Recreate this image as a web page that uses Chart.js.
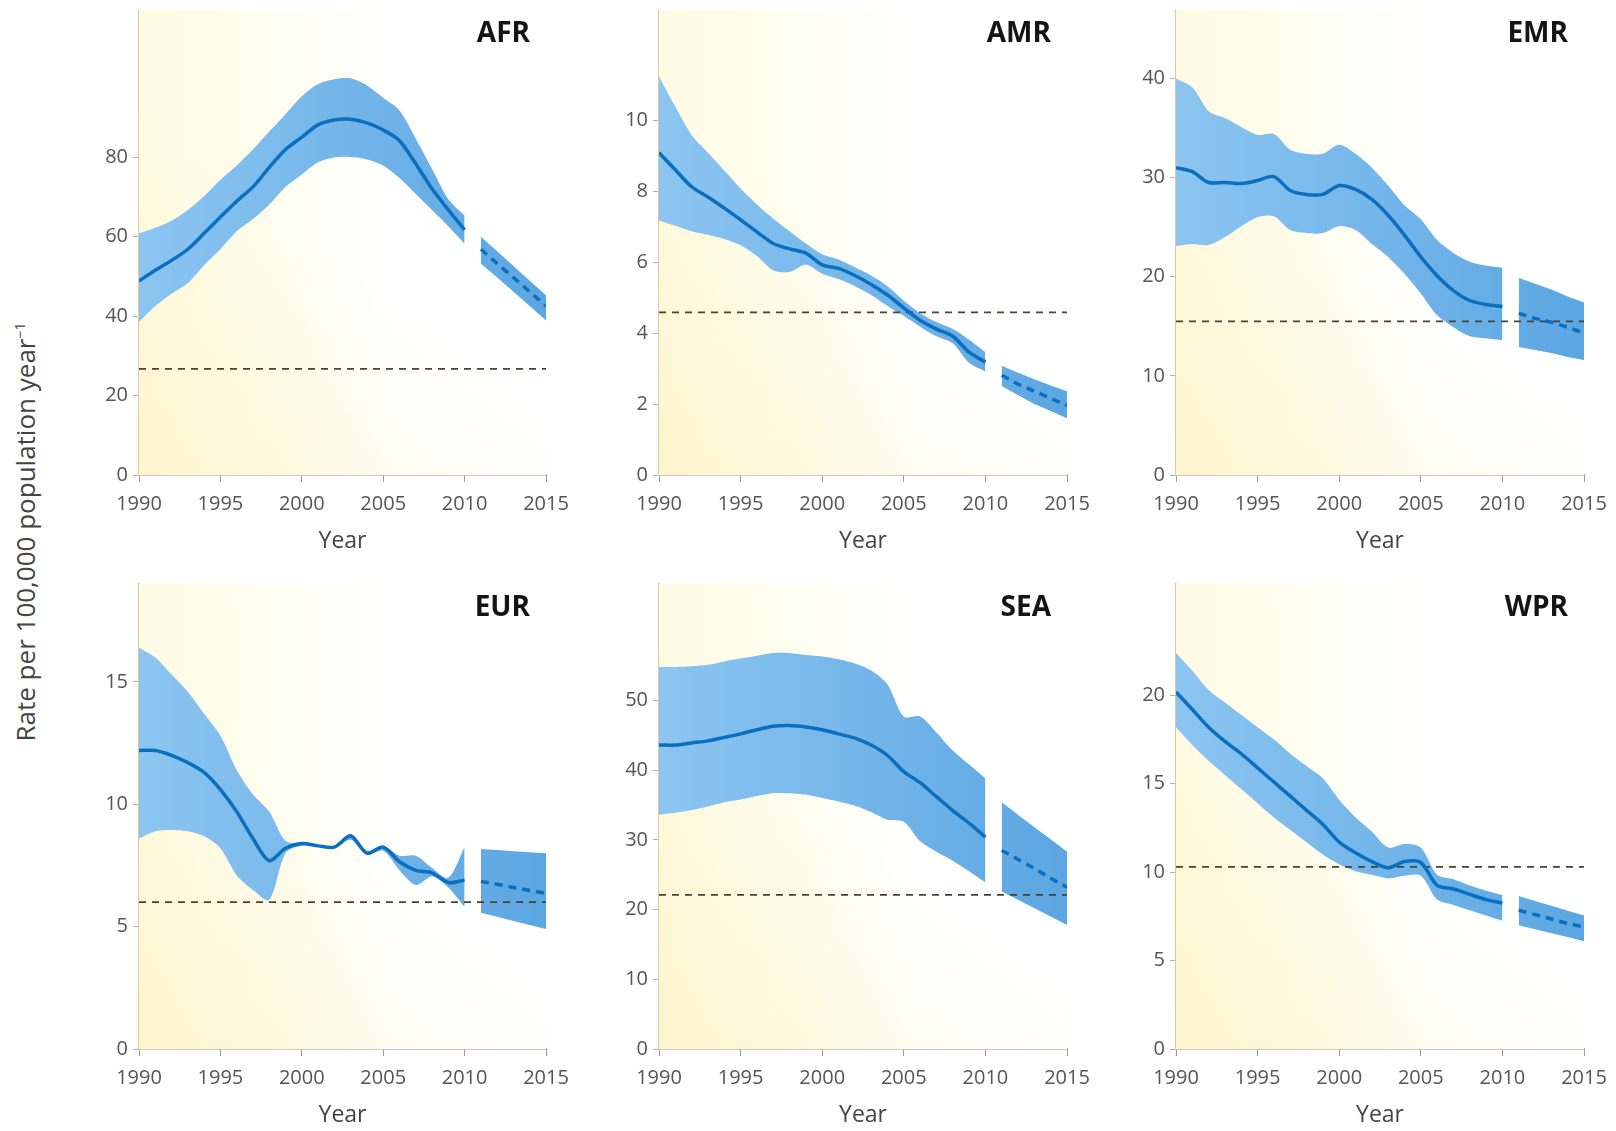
<!DOCTYPE html>
<html>
<head>
    <title>TB incidence by WHO region</title>
    <script src="https://cdn.jsdelivr.net/npm/chart.js"></script>
    <style>
        body { margin: 0; background: #fff; overflow: hidden; font-family: 'Open Sans', sans-serif; }
        .panel { position: absolute; }
        #ytitle {
            position: absolute; left: 25px; top: 532px; white-space: nowrap;
            transform: translate(-50%, -50%) rotate(-90deg);
            font-size: 26px; color: #444;
        }
        #ytitle sup { font-size: 14px; }
    </style>
</head>
<body>
    <div id="ytitle">Rate per 100,000 population year<sup>−1</sup></div>
    <canvas class="panel" id="afr" width="510" height="560" style="left:60px;top:0px"></canvas>
    <canvas class="panel" id="amr" width="510" height="560" style="left:580px;top:0px"></canvas>
    <canvas class="panel" id="emr" width="519" height="560" style="left:1097px;top:0px"></canvas>
    <canvas class="panel" id="eur" width="510" height="560" style="left:60px;top:574px"></canvas>
    <canvas class="panel" id="sea" width="510" height="560" style="left:580px;top:574px"></canvas>
    <canvas class="panel" id="wpr" width="519" height="560" style="left:1097px;top:574px"></canvas>

    <script>
        const years = [1990, 1991, 1992, 1993, 1994, 1995, 1996, 1997, 1998, 1999, 2000,
                       2001, 2002, 2003, 2004, 2005, 2006, 2007, 2008, 2009, 2010];
        const projYears = [2011, 2012, 2013, 2014, 2015];

        // AFR
        const afrMid = [48.8, 51.5, 54, 56.8, 60.8, 64.9, 68.9, 72.5, 77.4, 81.9, 85, 88.1, 89.3, 89.5, 88.6, 86.8, 84.1, 78.3, 72, 66.7, 61.7];
        const afrHi  = [60.8, 62.2, 64, 66.7, 70.2, 74.3, 77.9, 81.9, 86.4, 90.8, 95.3, 98.4, 99.6, 99.8, 98, 94.9, 91.7, 84.6, 77, 69.4, 65.3];
        const afrLo  = [38.5, 42.5, 45.6, 48.3, 52.8, 56.8, 61.3, 64.4, 68, 72.5, 75.6, 78.7, 79.9, 80, 79.4, 77.9, 74.7, 70.7, 66.7, 62.6, 58.2];
        const afrProjMid = [56.8, 53.2, 49.7, 46.1, 42.5];
        const afrProjHi  = [60, 56.3, 52.6, 48.9, 45.2];
        const afrProjLo  = [53.2, 49.7, 46.1, 42.5, 38.9];
        const afrTarget = 26.7;
        const afrTicks = [0, 20, 40, 60, 80];

        // AMR
        const amrMid = [9.08, 8.6, 8.12, 7.83, 7.52, 7.19, 6.85, 6.52, 6.37, 6.25, 5.92, 5.82, 5.62, 5.37, 5.07, 4.71, 4.36, 4.11, 3.91, 3.46, 3.18];
        const amrHi  = [11.23, 10.38, 9.58, 9.08, 8.58, 8.07, 7.62, 7.22, 6.87, 6.52, 6.22, 6.07, 5.85, 5.62, 5.32, 4.91, 4.56, 4.31, 4.11, 3.81, 3.46];
        const amrLo  = [7.17, 7.02, 6.87, 6.77, 6.65, 6.47, 6.17, 5.77, 5.72, 5.92, 5.67, 5.52, 5.32, 5.07, 4.76, 4.48, 4.18, 3.91, 3.71, 3.16, 2.91];
        const amrProjMid = [2.81, 2.56, 2.36, 2.16, 1.96];
        const amrProjHi  = [3.08, 2.88, 2.7, 2.52, 2.36];
        const amrProjLo  = [2.51, 2.25, 2.0, 1.8, 1.6];
        const amrTarget = 4.58;
        const amrTicks = [0, 2, 4, 6, 8, 10];

        // EMR
        const emrMid = [31, 30.6, 29.5, 29.5, 29.4, 29.7, 30.1, 28.7, 28.3, 28.3, 29.2, 28.8, 27.8, 26.2, 24.2, 22, 20.1, 18.6, 17.6, 17.2, 17];
        const emrHi  = [40, 39.1, 36.7, 36, 35.1, 34.3, 34.4, 32.8, 32.4, 32.4, 33.3, 32.4, 31, 29.2, 27.2, 25.8, 23.7, 22.4, 21.5, 21.1, 20.9];
        const emrLo  = [23.1, 23.3, 23.2, 24, 25.1, 26, 26.1, 24.7, 24.4, 24.4, 25.1, 24.7, 23.3, 22, 20.3, 18.3, 16.1, 14.9, 14, 13.8, 13.6];
        const emrProjMid = [16.3, 15.8, 15.4, 14.9, 14.3];
        const emrProjHi  = [19.9, 19.3, 18.7, 18.0, 17.4];
        const emrProjLo  = [12.9, 12.6, 12.3, 11.9, 11.6];
        const emrTarget = 15.5;
        const emrTicks = [0, 10, 20, 30, 40];

        // EUR
        const eurMid = [12.2, 12.2, 12.0, 11.7, 11.3, 10.6, 9.7, 8.6, 7.7, 8.2, 8.4, 8.3, 8.25, 8.7, 8.0, 8.25, 7.65, 7.3, 7.2, 6.8, 6.9];
        const eurHi  = [16.4, 16.0, 15.3, 14.6, 13.7, 12.8, 11.4, 10.4, 9.7, 8.5, 8.4, 8.3, 8.3, 8.8, 8.1, 8.3, 7.9, 7.9, 7.4, 7.0, 8.25];
        const eurLo  = [8.6, 8.9, 8.95, 8.9, 8.7, 8.2, 7.1, 6.5, 6.1, 8.0, 8.3, 8.25, 8.2, 8.55, 7.95, 8.1, 7.3, 6.7, 7.05, 6.6, 5.8];
        const eurProjMid = [6.85, 6.73, 6.6, 6.48, 6.36];
        const eurProjHi  = [8.17, 8.13, 8.08, 8.04, 8.0];
        const eurProjLo  = [5.57, 5.4, 5.23, 5.07, 4.9];
        const eurTarget = 6.0;
        const eurTicks = [0, 5, 10, 15];

        // SEA
        const seaMid = [43.6, 43.6, 43.9, 44.2, 44.7, 45.2, 45.8, 46.3, 46.4, 46.2, 45.8, 45.2, 44.6, 43.6, 42.1, 39.8, 38.2, 36.2, 34.2, 32.4, 30.4];
        const seaHi  = [54.8, 54.8, 54.9, 55.1, 55.6, 56, 56.4, 56.8, 56.8, 56.5, 56.3, 55.9, 55.3, 54.3, 52.3, 47.7, 47.7, 45.4, 42.8, 40.8, 38.8];
        const seaLo  = [33.6, 33.9, 34.3, 34.8, 35.4, 35.8, 36.3, 36.7, 36.7, 36.5, 36, 35.5, 34.9, 34, 32.9, 32.6, 29.8, 28.3, 27, 25.5, 23.9];
        const seaProjMid = [28.5, 27.2, 25.9, 24.5, 23.2];
        const seaProjHi  = [35.4, 33.6, 31.8, 30.1, 28.3];
        const seaProjLo  = [22.6, 21.4, 20.2, 19.0, 17.8];
        const seaTarget = 22.1;
        const seaTicks = [0, 10, 20, 30, 40, 50];

        // WPR
        const wprMid = [20.2, 19.2, 18.2, 17.4, 16.7, 15.9, 15.1, 14.3, 13.5, 12.7, 11.7, 11.1, 10.6, 10.25, 10.6, 10.55, 9.25, 9.05, 8.75, 8.45, 8.25];
        const wprHi  = [22.4, 21.4, 20.3, 19.6, 18.9, 18.2, 17.5, 16.7, 16, 15.3, 14.1, 13.1, 12.3, 11.4, 11.6, 11.4, 9.85, 9.6, 9.25, 8.95, 8.7];
        const wprLo  = [18.2, 17.2, 16.3, 15.5, 14.7, 13.9, 13.1, 12.4, 11.7, 11, 10.45, 10.05, 9.85, 9.65, 9.8, 9.8, 8.45, 8.15, 7.85, 7.55, 7.25];
        const wprProjMid = [7.85, 7.6, 7.35, 7.1, 6.9];
        const wprProjHi  = [8.65, 8.37, 8.1, 7.82, 7.55];
        const wprProjLo  = [7.0, 6.78, 6.55, 6.33, 6.1];
        const wprTarget = 10.3;
        const wprTicks = [0, 5, 10, 15, 20];

        const FONT = "'Open Sans', sans-serif";
        const LINE = '#0b6fbf';

        function pts(xs, ys) {
            return xs.map((x, i) => ({ x: x, y: ys[i] }));
        }

        function bandFill(context) {
            const chart = context.chart;
            const a = chart.chartArea;
            if (!a) return '#78b8ec';
            const g = chart.ctx.createLinearGradient(a.left, 0, a.right, 0);
            g.addColorStop(0, '#8cc5f1');
            g.addColorStop(1, '#5ba6e2');
            return g;
        }

        // pale yellow wash behind the plot, strongest bottom-left
        const backdrop = {
            id: 'backdrop',
            beforeDatasetsDraw(chart) {
                const a = chart.chartArea, ctx = chart.ctx;
                const w = a.right - a.left, h = a.bottom - a.top;
                const g = ctx.createLinearGradient(a.left, 0, a.right, 0);
                g.addColorStop(0, '#fffbe3');
                g.addColorStop(0.35, '#fffdf0');
                g.addColorStop(0.62, '#ffffff');
                ctx.save();
                ctx.fillStyle = g;
                ctx.fillRect(a.left, a.top, w, h);
                const g2 = ctx.createLinearGradient(a.left, a.bottom, a.left + w * 0.45, a.bottom - h * 0.5);
                g2.addColorStop(0, 'rgba(255,238,180,0.45)');
                g2.addColorStop(1, 'rgba(255,238,180,0)');
                ctx.fillStyle = g2;
                ctx.fillRect(a.left, a.top, w, h);
                ctx.restore();
            }
        };

        const regionLabel = {
            id: 'regionLabel',
            afterDraw(chart, args, opts) {
                const a = chart.chartArea, ctx = chart.ctx;
                ctx.save();
                ctx.font = 'bold 28px ' + FONT;
                ctx.fillStyle = '#141414';
                ctx.textAlign = 'right';
                ctx.textBaseline = 'middle';
                ctx.fillText(opts.text, a.right - 16, a.top + 24);
                ctx.restore();
            }
        };

        function makePanel(id, name, mid, hi, lo, pMid, pHi, pLo, target, yMax, yTicks, padRight) {
            return new Chart(document.getElementById(id), {
                type: 'line',
                data: {
                    datasets: [
                        { data: pts(years, mid), borderColor: LINE, borderWidth: 3.5, tension: 0.3, pointRadius: 0, fill: false },
                        { data: pts(projYears, pMid), borderColor: LINE, borderWidth: 3.5, borderDash: [8, 6], pointRadius: 0, fill: false },
                        { data: [{ x: 1990, y: target }, { x: 2015, y: target }], borderColor: '#4a4232', borderWidth: 1.7, borderDash: [7, 6], pointRadius: 0, fill: false, order: 1 },
                        { data: pts(years, hi), borderWidth: 0, borderColor: 'rgba(0,0,0,0)', tension: 0.3, pointRadius: 0, fill: '+1', backgroundColor: bandFill, order: 2 },
                        { data: pts(years, lo), borderWidth: 0, borderColor: 'rgba(0,0,0,0)', tension: 0.3, pointRadius: 0, fill: false, order: 2 },
                        { data: pts(projYears, pHi), borderWidth: 0, borderColor: 'rgba(0,0,0,0)', pointRadius: 0, fill: '+1', backgroundColor: bandFill, order: 2 },
                        { data: pts(projYears, pLo), borderWidth: 0, borderColor: 'rgba(0,0,0,0)', pointRadius: 0, fill: false, order: 2 }
                    ]
                },
                options: {
                    responsive: false,
                    animation: false,
                    layout: { padding: { top: 10, right: padRight, left: 0, bottom: 0 } },
                    plugins: {
                        legend: { display: false },
                        tooltip: { enabled: false },
                        regionLabel: { text: name }
                    },
                    scales: {
                        x: {
                            type: 'linear', min: 1990, max: 2015,
                            afterFit: s => { s.height = 85; s.paddingLeft = 0; s.paddingRight = 0; },
                            grid: { drawOnChartArea: false, drawTicks: true, tickLength: 7, color: '#9a9a9a' },
                            border: { display: true, color: '#9a9a9a', width: 1.5 },
                            ticks: { stepSize: 5, padding: 10, color: '#555', font: { family: FONT, size: 20 }, maxRotation: 0, callback: v => String(v) },
                            title: { display: true, text: 'Year', color: '#444', font: { family: FONT, size: 23 }, padding: { top: 0, bottom: 5 } }
                        },
                        y: {
                            min: 0, max: yMax,
                            afterFit: s => { s.width = 79; s.paddingTop = 0; s.paddingBottom = 0; },
                            afterBuildTicks: s => { s.ticks = yTicks.map(v => ({ value: v })); },
                            grid: { drawOnChartArea: false, drawTicks: true, tickLength: 6, color: '#b8b0a0' },
                            border: { display: true, color: '#dccb9f', width: 1.5 },
                            ticks: { padding: 5, color: '#555', font: { family: FONT, size: 20 }, callback: v => String(v) }
                        }
                    }
                },
                plugins: [backdrop, regionLabel]
            });
        }

        makePanel('afr', 'AFR', afrMid, afrHi, afrLo, afrProjMid, afrProjHi, afrProjLo, afrTarget, 117, afrTicks, 24);
        makePanel('amr', 'AMR', amrMid, amrHi, amrLo, amrProjMid, amrProjHi, amrProjLo, amrTarget, 13.1, amrTicks, 23);
        makePanel('emr', 'EMR', emrMid, emrHi, emrLo, emrProjMid, emrProjHi, emrProjLo, emrTarget, 46.9, emrTicks, 32);
        makePanel('eur', 'EUR', eurMid, eurHi, eurLo, eurProjMid, eurProjHi, eurProjLo, eurTarget, 19.0, eurTicks, 24);
        makePanel('sea', 'SEA', seaMid, seaHi, seaLo, seaProjMid, seaProjHi, seaProjLo, seaTarget, 66.7, seaTicks, 23);
        makePanel('wpr', 'WPR', wprMid, wprHi, wprLo, wprProjMid, wprProjHi, wprProjLo, wprTarget, 26.3, wprTicks, 32);
    </script>
</body>
</html>
